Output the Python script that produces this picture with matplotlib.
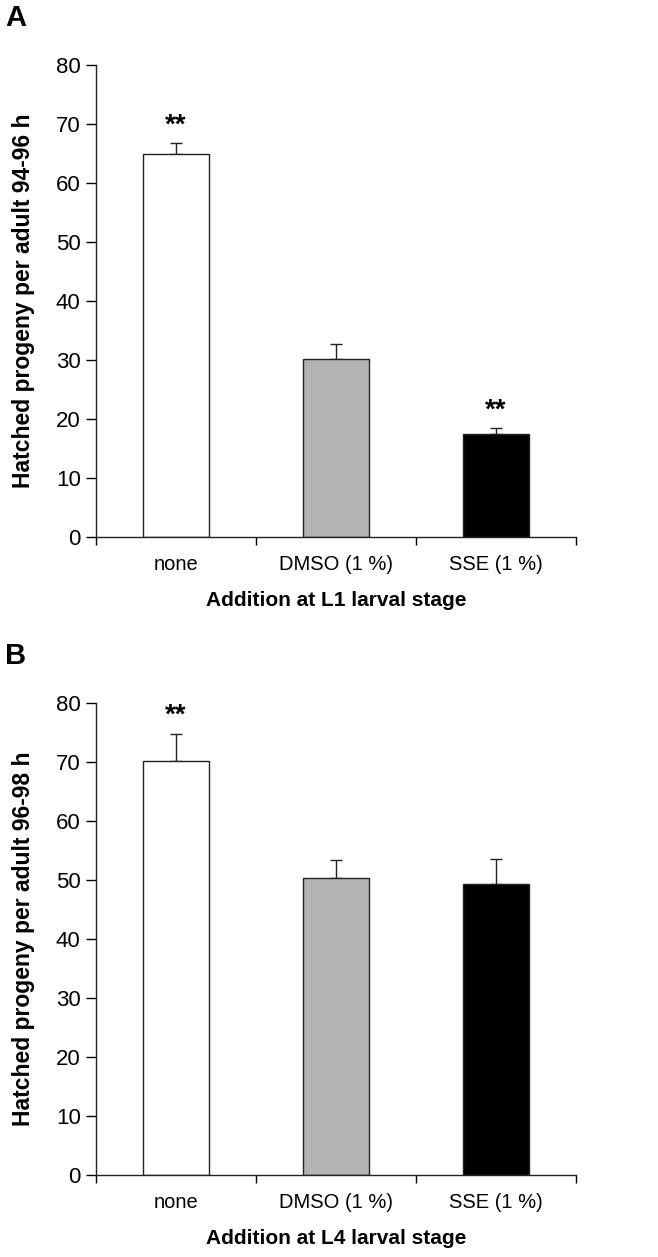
import matplotlib.pyplot as plt

plt.rcParams['font.family'] = ['Liberation Sans', 'DejaVu Sans']

# data
categories = ["none", "DMSO (1 %)", "SSE (1 %)"]
colors = ["white", "#b3b3b3", "black"]

means_a = [64.9, 30.2, 17.5]
errs_a = [1.8, 2.5, 0.9]
stars_a = ["**", "", "**"]

means_b = [70.2, 50.3, 49.3]
errs_b = [4.6, 3.1, 4.3]
stars_b = ["**", "", ""]

ylabels = ["Hatched progeny per adult 94-96 h", "Hatched progeny per adult 96-98 h"]
xlabels = ["Addition at L1 larval stage", "Addition at L4 larval stage"]
panel_letters = ["A", "B"]


def draw_panel(ax, means, errs, stars, xlabel, ylabel):
    x = range(len(categories))
    ax.bar(x, means, width=0.41, color=colors, edgecolor="#222222", linewidth=1.0, zorder=2)
    ax.errorbar(x, means, yerr=[[0] * len(errs), errs], fmt="none", ecolor="#222222",
                elinewidth=1.0, capsize=4, capthick=1.0, zorder=1)
    for xi, m, e, s in zip(x, means, errs, stars):
        if s:
            ax.text(xi, m + e + 3.0, s, ha="center", va="center", fontsize=20,
                    fontweight="bold")

    ax.set_xlim(-0.5, 2.5)
    ax.set_ylim(0, 80)
    ax.set_yticks(range(0, 81, 10))
    ax.set_xticks([-0.5, 0.5, 1.5, 2.5])
    ax.set_xticklabels([])
    ax.set_xticks(list(x), minor=True)
    ax.set_xticklabels(categories, minor=True)
    ax.tick_params(axis="x", which="minor", length=0, pad=13, labelsize=14.5)
    ax.tick_params(axis="x", which="major", length=6, direction="out", width=1)
    ax.tick_params(axis="y", length=7, direction="out", width=1, labelsize=16, pad=4)

    for side in ["top", "right"]:
        ax.spines[side].set_visible(False)
    for side in ["left", "bottom"]:
        ax.spines[side].set_linewidth(1.0)
        ax.spines[side].set_color("#222222")

    ax.set_xlabel(xlabel, fontsize=15, fontweight="bold", labelpad=12)
    ax.set_ylabel(ylabel, fontsize=16.5, fontweight="bold", labelpad=15)


fig = plt.figure(figsize=(6.58, 12.57), dpi=100)
ax_a = fig.add_axes([0.1459, 0.5728, 0.7295, 0.3755])
ax_b = fig.add_axes([0.1459, 0.0652, 0.7295, 0.3755])

draw_panel(ax_a, means_a, errs_a, stars_a, xlabels[0], ylabels[0])
draw_panel(ax_b, means_b, errs_b, stars_b, xlabels[1], ylabels[1])

fig.text(0.008, 0.997, panel_letters[0], fontsize=21, fontweight="bold", va="top")
fig.text(0.008, 0.489, panel_letters[1], fontsize=21, fontweight="bold", va="top")

fig.savefig("out.png", dpi=100)
